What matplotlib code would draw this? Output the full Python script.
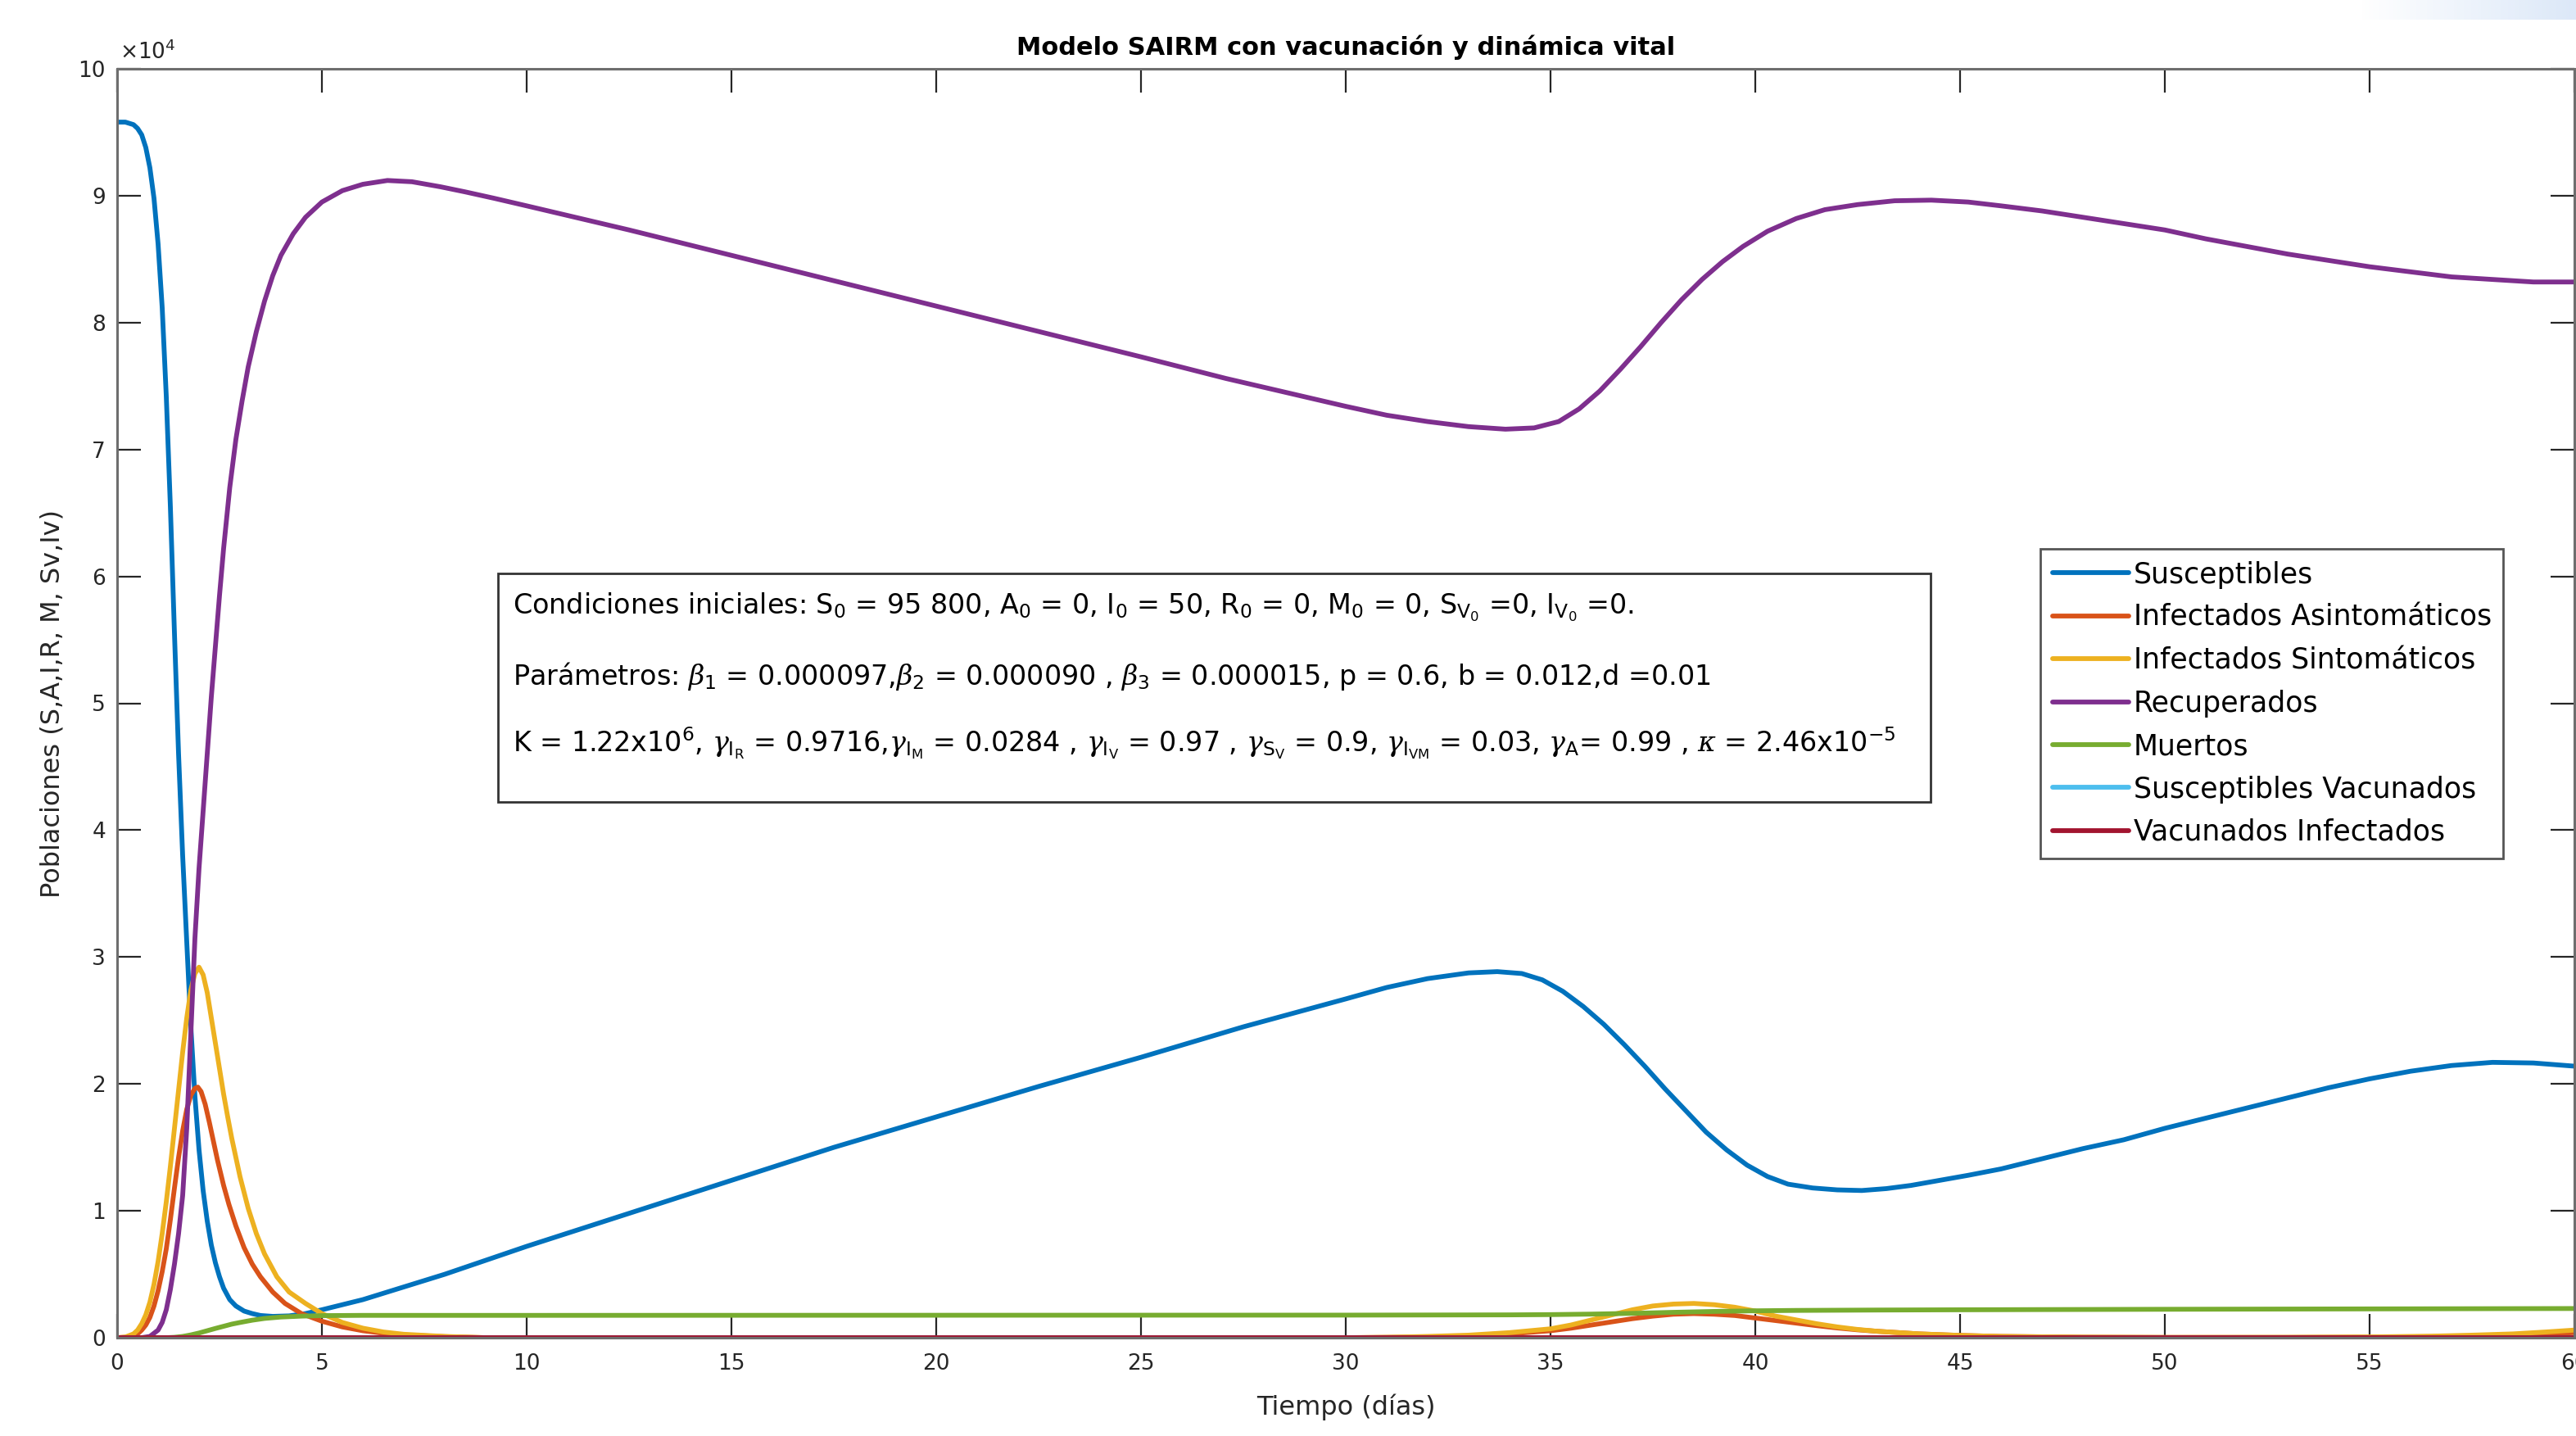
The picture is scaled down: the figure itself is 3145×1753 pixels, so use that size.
# -*- coding: utf-8 -*-
"""
Modelo SAIRM con vacunación y dinámica vital - recreación de la figura
"""
import matplotlib
matplotlib.use('Agg')
import numpy as np
import matplotlib.pyplot as plt
from matplotlib.patches import Rectangle
from matplotlib.colors import LinearSegmentedColormap

plt.rcParams['font.family'] = ['DejaVu Sans']
plt.rcParams['mathtext.fontset'] = 'custom'
plt.rcParams['mathtext.rm'] = 'DejaVu Sans'
plt.rcParams['mathtext.it'] = 'DejaVu Serif:italic'
plt.rcParams['mathtext.bf'] = 'DejaVu Sans:bold'

# ---- datos (poblaciones en unidades de 10^4) ----
t_S = [0, 0.2, 0.4, 0.5, 0.6, 0.7, 0.8, 0.9, 1.0, 1.1, 1.2, 1.3, 1.4, 1.5, 1.6,
       1.7, 1.8, 1.9, 2.0, 2.1, 2.2, 2.3, 2.4, 2.5, 2.6, 2.75, 2.9, 3.1, 3.3,
       3.5, 3.8, 4.2, 4.6, 5.0, 5.5, 6, 7, 8, 9, 10, 12.5, 15, 17.5, 20, 22.5,
       25, 27.5, 30, 31, 32, 33, 33.7, 34.3, 34.8, 35.3, 35.8, 36.3, 36.8, 37.3,
       37.8, 38.3, 38.8, 39.3, 39.8, 40.3, 40.8, 41.4, 42.0, 42.6, 43.2, 43.8,
       44.5, 45.2, 46, 47, 48, 49, 50, 51, 52, 53, 54, 55, 56, 57, 58, 59, 60]
S = [9.58, 9.58, 9.56, 9.53, 9.48, 9.38, 9.22, 8.98, 8.62, 8.12, 7.42, 6.55,
     5.55, 4.6, 3.8, 3.12, 2.45, 1.9, 1.48, 1.16, 0.92, 0.73, 0.59, 0.48, 0.39,
     0.30, 0.25, 0.21, 0.19, 0.175, 0.168, 0.172, 0.19, 0.22, 0.26, 0.3, 0.4,
     0.5, 0.61, 0.72, 0.98, 1.24, 1.50, 1.74, 1.98, 2.21, 2.45, 2.67, 2.76,
     2.83, 2.875, 2.885, 2.87, 2.82, 2.73, 2.61, 2.47, 2.31, 2.14, 1.96, 1.79,
     1.62, 1.48, 1.36, 1.27, 1.21, 1.18, 1.165, 1.16, 1.175, 1.2, 1.24, 1.28,
     1.33, 1.41, 1.49, 1.56, 1.65, 1.73, 1.81, 1.89, 1.97, 2.04, 2.10, 2.145,
     2.17, 2.165, 2.14]

t_A = [0, 0.2, 0.4, 0.5, 0.6, 0.7, 0.8, 0.9, 1.0, 1.1, 1.2, 1.3, 1.4, 1.5, 1.6,
       1.7, 1.8, 1.9, 1.97, 2.05, 2.15, 2.25, 2.35, 2.45, 2.6, 2.73, 2.9, 3.1,
       3.3, 3.5, 3.8, 4.1, 4.5, 5.0, 5.5, 6.0, 6.5, 7, 8, 9, 30, 32, 33, 34, 35,
       35.5, 36, 36.5, 37, 37.5, 38, 38.5, 39, 39.5, 40, 40.5, 41, 41.5, 42,
       42.5, 43, 44, 45, 46, 48, 50, 53, 55, 56.5, 57.5, 58.5, 59.3, 60]
A = [0, 0.003, 0.015, 0.03, 0.06, 0.1, 0.16, 0.25, 0.37, 0.52, 0.7, 0.93, 1.18,
     1.42, 1.63, 1.8, 1.91, 1.965, 1.975, 1.94, 1.84, 1.7, 1.55, 1.4, 1.2, 1.05,
     0.88, 0.71, 0.58, 0.48, 0.36, 0.27, 0.19, 0.13, 0.085, 0.055, 0.035,
     0.022, 0.008, 0.0, 0.0, 0.005, 0.012, 0.03, 0.055, 0.075, 0.1, 0.125,
     0.15, 0.17, 0.185, 0.19, 0.185, 0.175, 0.155, 0.135, 0.115, 0.095, 0.077,
     0.062, 0.05, 0.03, 0.018, 0.01, 0.004, 0.002, 0.002, 0.004, 0.008, 0.013,
     0.02, 0.03, 0.04]

t_I = [0, 0.2, 0.4, 0.5, 0.6, 0.7, 0.8, 0.9, 1.0, 1.1, 1.2, 1.3, 1.4, 1.5, 1.6,
       1.7, 1.8, 1.9, 2.0, 2.1, 2.2, 2.3, 2.4, 2.5, 2.6, 2.7, 2.8, 3.0, 3.2,
       3.4, 3.6, 3.9, 4.2, 4.6, 5.0, 5.5, 6, 6.5, 7, 8, 9, 30, 31, 32, 33, 34,
       35, 35.5, 36, 36.5, 37, 37.5, 38, 38.5, 39, 39.5, 40, 40.5, 41, 41.5, 42,
       42.5, 43, 44, 45, 46, 48, 50, 53, 55, 56.5, 57.5, 58.5, 59.3, 60]
I = [0, 0.005, 0.03, 0.06, 0.11, 0.18, 0.28, 0.42, 0.6, 0.82, 1.07, 1.35, 1.65,
     1.95, 2.25, 2.52, 2.74, 2.87, 2.92, 2.86, 2.72, 2.52, 2.32, 2.12, 1.92,
     1.74, 1.57, 1.27, 1.02, 0.82, 0.66, 0.48, 0.36, 0.27, 0.19, 0.12, 0.075,
     0.045, 0.027, 0.01, 0.0, 0.0, 0.003, 0.01, 0.02, 0.04, 0.07, 0.1, 0.14,
     0.18, 0.22, 0.25, 0.265, 0.27, 0.26, 0.24, 0.21, 0.17, 0.14, 0.11, 0.085,
     0.065, 0.05, 0.03, 0.018, 0.01, 0.004, 0.002, 0.003, 0.006, 0.012, 0.02,
     0.03, 0.045, 0.06]

t_R = [0, 0.6, 0.8, 1.0, 1.1, 1.2, 1.3, 1.4, 1.5, 1.6, 1.7, 1.8, 1.9, 2.0, 2.1,
       2.2, 2.3, 2.4, 2.5, 2.6, 2.75, 2.9, 3.05, 3.2, 3.4, 3.6, 3.8, 4.0, 4.3,
       4.6, 5.0, 5.5, 6.0, 6.6, 7.2, 7.9, 8.5, 9.2, 10, 12.5, 15, 17.5, 20,
       22.5, 25, 27.07, 30, 31, 32, 33, 33.9, 34.6, 35.2, 35.7, 36.2, 36.7,
       37.2, 37.7, 38.2, 38.7, 39.2, 39.7, 40.3, 41, 41.7, 42.5, 43.4, 44.3,
       45.2, 46, 47, 48, 49, 50, 51, 52, 53, 54, 55, 56, 57, 58, 59, 60]
R = [0, 0, 0.01, 0.06, 0.12, 0.22, 0.38, 0.58, 0.82, 1.12, 1.65, 2.4, 3.15,
     3.7, 4.15, 4.6, 5.05, 5.45, 5.85, 6.22, 6.7, 7.08, 7.38, 7.65, 7.93, 8.17,
     8.37, 8.53, 8.7, 8.83, 8.95, 9.04, 9.09, 9.12, 9.11, 9.07, 9.03, 8.98,
     8.92, 8.73, 8.53, 8.33, 8.13, 7.93, 7.73, 7.56, 7.34, 7.27, 7.22, 7.18,
     7.16, 7.17, 7.22, 7.32, 7.46, 7.63, 7.81, 8.0, 8.18, 8.34, 8.48, 8.6,
     8.72, 8.82, 8.89, 8.93, 8.96, 8.965, 8.95, 8.92, 8.88, 8.83, 8.78, 8.73,
     8.66, 8.6, 8.54, 8.49, 8.44, 8.40, 8.36, 8.34, 8.32, 8.32]

t_M = [0, 1.2, 1.4, 1.6, 1.8, 2.0, 2.2, 2.4, 2.6, 2.8, 3.0, 3.3, 3.6, 4.0, 4.5,
       5.0, 6, 10, 20, 30, 34, 35, 36, 37, 38, 39, 40, 41, 43, 45, 50, 55, 60]
M = [0, 0, 0.003, 0.01, 0.022, 0.037, 0.055, 0.073, 0.09, 0.107, 0.12, 0.138,
     0.152, 0.163, 0.17, 0.174, 0.176, 0.176, 0.177, 0.178, 0.18, 0.182, 0.186,
     0.192, 0.2, 0.207, 0.212, 0.215, 0.218, 0.22, 0.224, 0.227, 0.23]

t_Sv = [0, 60]
Sv = [0, 0]
t_Iv = [0, 60]
Iv = [0, 0]

labels = ['Susceptibles', 'Infectados Asintomáticos', 'Infectados Sintomáticos',
          'Recuperados', 'Muertos', 'Susceptibles Vacunados', 'Vacunados Infectados']
colors = ['#0072BD', '#D95319', '#EDB120', '#7E2F8E', '#77AC30', '#4DBEEE', '#A2142F']

# ---- figura ----
W, H = 3145, 1753
fig = plt.figure(figsize=(W / 100, H / 100), dpi=100)
ax = fig.add_axes([143 / W, 1 - 1633 / H, 3000 / W, 1549 / H])

series = [(t_S, S), (t_A, A), (t_I, I), (t_R, R), (t_M, M), (t_Sv, Sv), (t_Iv, Iv)]
for (t, y), lab, c in zip(series, labels, colors):
    ax.plot(t, y, color=c, lw=4.2, label=lab, solid_joinstyle='round',
            solid_capstyle='round')

ax.set_xlim(0, 60)
ax.set_ylim(0, 10)
ax.set_xticks(range(0, 61, 5))
ax.set_yticks(range(0, 11))

txt_col = '#262626'
for sp in ax.spines.values():
    sp.set_color('#6e6e6e')
    sp.set_linewidth(2.2)
ax.tick_params(direction='in', length=21, width=1.6, color='#262626',
               labelsize=19, labelcolor=txt_col, top=True, right=True)
ax.tick_params(axis='x', pad=14)
ax.tick_params(axis='y', pad=10)

ax.text(0.001, 1.004, '×10$^4$', transform=ax.transAxes, fontsize=19,
        color=txt_col, ha='left', va='bottom')

ax.set_title('Modelo SAIRM con vacunación y dinámica vital', fontsize=22,
             fontweight='bold', color='black', pad=12)
ax.set_xlabel('Tiempo (días)', fontsize=23, color=txt_col)
ax.set_ylabel('Poblaciones (S,A,I,R, M, Sv,Iv)', fontsize=23, color=txt_col)
ax.xaxis.set_label_coords(0.5, -0.044)
ax.yaxis.set_label_coords(-0.021, 0.5)

leg = ax.legend(loc='upper left', bbox_to_anchor=(2491 / W, 1 - 670 / H),
                bbox_transform=fig.transFigure, fontsize=25, frameon=True,
                fancybox=False, framealpha=1, edgecolor='#555555',
                handlelength=2.7, handletextpad=0.15, labelspacing=0.53,
                borderpad=0.42, borderaxespad=0)
leg.get_frame().set_linewidth(2.0)

# ---- cuadro de texto con condiciones iniciales y parametros ----
bx0, bx1, by0, by1 = 608, 2357, 700, 979
fig.patches.append(Rectangle((bx0 / W, 1 - by1 / H), (bx1 - bx0) / W, (by1 - by0) / H,
                             transform=fig.transFigure, facecolor='white',
                             edgecolor='#333333', linewidth=2.0, zorder=3))

lines = [
    r'Condiciones iniciales: S$_0$ = 95 800, A$_0$ = 0, I$_0$ = 50, R$_0$ = 0, '
    r'M$_0$ = 0, S$_{\mathrm{V}_0}$ =0, I$_{\mathrm{V}_0}$ =0.',
    r'Parámetros: $\beta_1$ = 0.000097,$\beta_2$ = 0.000090 , $\beta_3$ = 0.000015, '
    r'p = 0.6, b = 0.012,d =0.01',
    r'K = 1.22x10$^6$, $\gamma_{\mathrm{I}_\mathrm{R}}$ = 0.9716,'
    r'$\gamma_{\mathrm{I}_\mathrm{M}}$ = 0.0284 , $\gamma_{\mathrm{I}_\mathrm{V}}$ = 0.97 , '
    r'$\gamma_{\mathrm{S}_\mathrm{V}}$ = 0.9, $\gamma_{\mathrm{I}_\mathrm{VM}}$ = 0.03, '
    r'$\gamma_\mathrm{A}$= 0.99 , $\kappa$ = 2.46x10$^{-5}$',
]
baselines = [750, 836, 918]
for s, yb in zip(lines, baselines):
    fig.text(626 / W, 1 - yb / H, s, fontsize=24, color='black',
             ha='left', va='baseline', zorder=4)

# franja azul clara en la esquina superior derecha de la captura
band = fig.add_axes([2880 / W, 1 - 24 / H, 265 / W, 24 / H])
band.imshow(np.linspace(0, 1, 64).reshape(1, -1), aspect='auto',
            cmap=LinearSegmentedColormap.from_list('band', ['#ffffff', '#dce8f8']))
band.axis('off')

fig.savefig('out.png', dpi=100, facecolor='white')
